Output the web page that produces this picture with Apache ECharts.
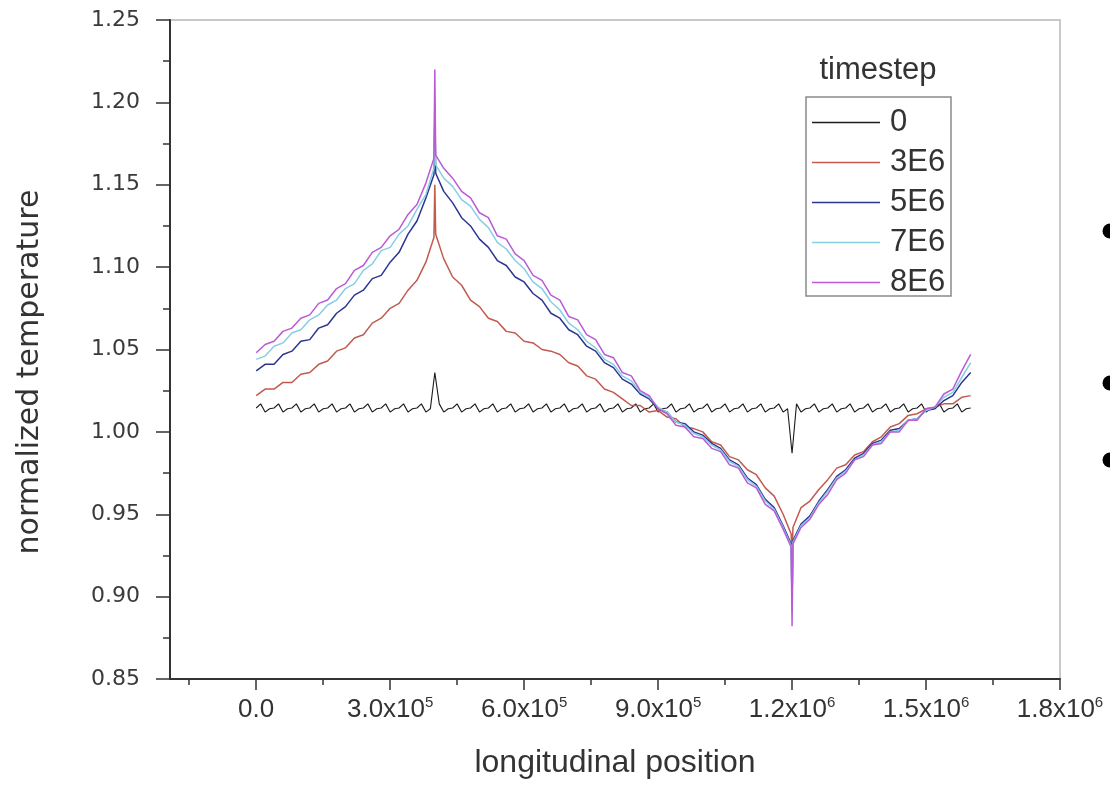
<!DOCTYPE html>
<html>
<head>
<meta charset="utf-8">
<title>normalized temperature vs longitudinal position</title>
<script src="https://cdn.jsdelivr.net/npm/echarts@6/dist/echarts.min.js"></script>
<style>
  html, body { margin: 0; padding: 0; background: #ffffff; }
  #chart { width: 1110px; height: 791px; }
</style>
</head>
<body>
<div id="chart"></div>
<script>
// Temperature profiles along the channel, one per timestep.
const timesteps = ['0', '3E6', '5E6', '7E6', '8E6'];

// Sample positions shared by the evolved profiles (source at 4.0e5, sink at 1.2e6).
const posCurve = [
  0, 20000, 40000, 60000, 80000, 100000, 120000, 140000, 160000, 180000,
  200000, 220000, 240000, 260000, 280000, 300000, 320000, 340000, 360000, 380000,
  398000, 400000, 402000,
  420000, 440000, 460000, 480000, 500000, 520000, 540000, 560000, 580000, 600000,
  620000, 640000, 660000, 680000, 700000, 720000, 740000, 760000, 780000, 800000,
  820000, 840000, 860000, 880000, 900000, 920000, 940000, 960000, 980000, 1000000,
  1020000, 1040000, 1060000, 1080000, 1100000, 1120000, 1140000, 1160000, 1180000,
  1198000, 1200000, 1202000,
  1220000, 1240000, 1260000, 1280000, 1300000, 1320000, 1340000, 1360000, 1380000, 1400000,
  1420000, 1440000, 1460000, 1480000, 1500000, 1520000, 1540000, 1560000, 1580000, 1600000
];

const temp3E6 = [
  1.022, 1.026, 1.026, 1.030, 1.030, 1.035, 1.036, 1.041, 1.043, 1.049,
  1.051, 1.057, 1.059, 1.066, 1.069, 1.075, 1.078, 1.086, 1.092, 1.103,
  1.118, 1.150, 1.120,
  1.105, 1.094, 1.089, 1.080, 1.076, 1.069, 1.067, 1.061, 1.060, 1.055,
  1.054, 1.050, 1.049, 1.047, 1.042, 1.040, 1.034, 1.032, 1.026, 1.024,
  1.020, 1.016, 1.016, 1.012, 1.013, 1.009, 1.008, 1.003, 1.002, 1.000,
  0.994, 0.992, 0.985, 0.983, 0.977, 0.974, 0.966, 0.961, 0.950,
  0.938, 0.925, 0.942,
  0.954, 0.958, 0.965, 0.971, 0.978, 0.980, 0.986, 0.988, 0.994, 0.997,
  1.003, 1.005, 1.010, 1.011, 1.014, 1.015, 1.017, 1.017, 1.021, 1.022
];

const temp5E6 = [
  1.037, 1.041, 1.041, 1.047, 1.049, 1.055, 1.056, 1.063, 1.065, 1.072,
  1.076, 1.083, 1.086, 1.093, 1.095, 1.103, 1.109, 1.120, 1.128, 1.142,
  1.156, 1.190, 1.157,
  1.146, 1.139, 1.130, 1.125, 1.117, 1.112, 1.104, 1.101, 1.094, 1.091,
  1.084, 1.080, 1.072, 1.069, 1.062, 1.059, 1.052, 1.049, 1.042, 1.039,
  1.032, 1.029, 1.023, 1.020, 1.014, 1.012, 1.006, 1.005, 1.000, 0.998,
  0.993, 0.990, 0.983, 0.980, 0.972, 0.968, 0.959, 0.954, 0.943,
  0.932, 0.895, 0.934,
  0.944, 0.949, 0.958, 0.965, 0.973, 0.977, 0.984, 0.987, 0.993, 0.995,
  1.001, 1.002, 1.007, 1.008, 1.013, 1.014, 1.019, 1.022, 1.030, 1.036
];

const temp7E6 = [
  1.044, 1.046, 1.052, 1.054, 1.060, 1.062, 1.068, 1.071, 1.077, 1.080,
  1.087, 1.090, 1.098, 1.102, 1.110, 1.112, 1.120, 1.125, 1.135, 1.144,
  1.160, 1.200, 1.162,
  1.154, 1.149, 1.141, 1.137, 1.129, 1.124, 1.115, 1.111, 1.104, 1.099,
  1.091, 1.087, 1.079, 1.074, 1.066, 1.062, 1.055, 1.051, 1.044, 1.041,
  1.034, 1.031, 1.024, 1.021, 1.015, 1.012, 1.006, 1.004, 0.999, 0.997,
  0.992, 0.989, 0.982, 0.979, 0.971, 0.967, 0.958, 0.953, 0.942,
  0.931, 0.890, 0.933,
  0.943, 0.948, 0.957, 0.964, 0.972, 0.976, 0.983, 0.986, 0.992, 0.994,
  1.000, 1.001, 1.007, 1.008, 1.013, 1.015, 1.021, 1.024, 1.033, 1.042
];

const temp8E6 = [
  1.048, 1.053, 1.055, 1.061, 1.063, 1.069, 1.071, 1.078, 1.080, 1.087,
  1.090, 1.098, 1.101, 1.109, 1.112, 1.119, 1.123, 1.132, 1.138, 1.151,
  1.166, 1.220, 1.168,
  1.160, 1.154, 1.146, 1.142, 1.133, 1.130, 1.119, 1.117, 1.108, 1.104,
  1.095, 1.092, 1.083, 1.080, 1.070, 1.068, 1.059, 1.056, 1.047, 1.045,
  1.036, 1.034, 1.025, 1.022, 1.014, 1.011, 1.004, 1.003, 0.997, 0.996,
  0.990, 0.988, 0.980, 0.978, 0.969, 0.966, 0.956, 0.952, 0.941,
  0.930, 0.882, 0.932,
  0.942, 0.947, 0.956, 0.962, 0.971, 0.975, 0.983, 0.985, 0.992, 0.993,
  1.000, 1.000, 1.007, 1.007, 1.014, 1.015, 1.023, 1.026, 1.037, 1.047
];

// Initial profile, sampled every 1.0e4 from 0 to 1.6e6.
const temp0 = [
  1.0145, 1.0170, 1.0120, 1.0140, 1.0145, 1.0170, 1.0120, 1.0140, 1.0145, 1.0170,
  1.0120, 1.0140, 1.0145, 1.0170, 1.0120, 1.0140, 1.0145, 1.0170, 1.0120, 1.0140,
  1.0145, 1.0170, 1.0120, 1.0140, 1.0145, 1.0170, 1.0120, 1.0140, 1.0145, 1.0170,
  1.0120, 1.0140, 1.0145, 1.0170, 1.0120, 1.0140, 1.0145, 1.0170, 1.0120, 1.0140,
  1.0360, 1.0170, 1.0120, 1.0140, 1.0145, 1.0170, 1.0120, 1.0140, 1.0145, 1.0170,
  1.0120, 1.0140, 1.0145, 1.0170, 1.0120, 1.0140, 1.0145, 1.0170, 1.0120, 1.0140,
  1.0145, 1.0170, 1.0120, 1.0140, 1.0145, 1.0170, 1.0120, 1.0140, 1.0145, 1.0170,
  1.0120, 1.0140, 1.0145, 1.0170, 1.0120, 1.0140, 1.0145, 1.0170, 1.0120, 1.0140,
  1.0145, 1.0170, 1.0120, 1.0140, 1.0145, 1.0170, 1.0120, 1.0140, 1.0145, 1.0170,
  1.0120, 1.0140, 1.0145, 1.0170, 1.0120, 1.0140, 1.0145, 1.0170, 1.0120, 1.0140,
  1.0145, 1.0170, 1.0120, 1.0140, 1.0145, 1.0170, 1.0120, 1.0140, 1.0145, 1.0170,
  1.0120, 1.0140, 1.0145, 1.0170, 1.0120, 1.0140, 1.0145, 1.0170, 1.0120, 1.0140,
  0.9870, 1.0170, 1.0120, 1.0140, 1.0145, 1.0170, 1.0120, 1.0140, 1.0145, 1.0170,
  1.0120, 1.0140, 1.0145, 1.0170, 1.0120, 1.0140, 1.0145, 1.0170, 1.0120, 1.0140,
  1.0145, 1.0170, 1.0120, 1.0140, 1.0145, 1.0170, 1.0120, 1.0140, 1.0145, 1.0170,
  1.0120, 1.0140, 1.0145, 1.0170, 1.0120, 1.0140, 1.0145, 1.0170, 1.0120, 1.0140,
  1.0145
];
const pos0 = temp0.map((_, i) => i * 10000);

// Axis ticks and their labels (mantissa, exponent).
const xTickValues = [0, 300000, 600000, 900000, 1200000, 1500000, 1800000];
const xTickText = [['0.0', ''], ['3.0x10', '5'], ['6.0x10', '5'], ['9.0x10', '5'],
                   ['1.2x10', '6'], ['1.5x10', '6'], ['1.8x10', '6']];
const xMinorTicks = [-150000, 150000, 450000, 750000, 1050000, 1350000, 1650000];
const yMin = 0.85, yMax = 1.25, yStep = 0.05;

const seriesColors = ['#1c1c1c', '#c25a4e', '#2b3690', '#86cfe2', '#bb5ad6'];
const seriesValues = [temp0, temp3E6, temp5E6, temp7E6, temp8E6];
const seriesPositions = [pos0, posCurve, posCurve, posCurve, posCurve];

const chart = echarts.init(document.getElementById('chart'), null, { renderer: 'canvas' });

const axisColor = '#333333';
const textColor = '#333333';

function xLabel(v) {
  const k = xTickValues.findIndex(t => Math.abs(t - v) < 1);
  if (k < 0) return '';
  const t = xTickText[k];
  return t[1] ? '{b|' + t[0] + '}{s|' + t[1] + '}' : '{b|' + t[0] + '}';
}

const option = {
  animation: false,
  backgroundColor: '#ffffff',
  grid: {
    left: 170, right: 50, top: 20, bottom: 112,
    outerBoundsMode: 'none', containLabel: false,
    show: true, borderColor: '#c9c9c9', borderWidth: 2, backgroundColor: 'transparent'
  },
  xAxis: [
    {
      type: 'value', min: -193000, max: 1800000,
      name: 'longitudinal position', nameLocation: 'middle', nameGap: 68,
      nameTextStyle: { fontFamily: 'Liberation Sans', fontSize: 32, color: textColor },
      axisLine: { show: true, onZero: false, lineStyle: { color: axisColor, width: 2 } },
      axisTick: { show: true, customValues: xTickValues, length: 11, lineStyle: { color: axisColor, width: 1.5 } },
      axisLabel: {
        customValues: xTickValues, margin: 16, formatter: xLabel,
        rich: {
          b: { fontFamily: 'Liberation Sans', fontSize: 26, color: textColor, lineHeight: 30 },
          s: { fontFamily: 'Liberation Sans', fontSize: 15, color: textColor, verticalAlign: 'top' }
        }
      },
      splitLine: { show: false }
    },
    {
      type: 'value', min: -193000, max: 1800000, position: 'bottom', offset: 0,
      axisLine: { show: false },
      axisTick: { show: true, customValues: xMinorTicks, length: 6, lineStyle: { color: axisColor, width: 1.5 } },
      axisLabel: { show: false },
      splitLine: { show: false }
    }
  ],
  yAxis: {
    type: 'value', min: yMin, max: yMax, interval: yStep,
    axisLine: { show: true, onZero: false, lineStyle: { color: axisColor, width: 2 } },
    axisTick: { show: true, length: 14, lineStyle: { color: axisColor, width: 1.5 } },
    minorTick: { show: true, splitNumber: 2, length: 7, lineStyle: { color: axisColor, width: 1.5 } },
    axisLabel: {
      margin: 30, fontFamily: 'DejaVu Sans', fontSize: 22, color: '#3a3a3a',
      formatter: v => v.toFixed(2)
    },
    splitLine: { show: false },
    minorSplitLine: { show: false }
  },
  legend: {
    data: timesteps, orient: 'vertical', left: 807, top: 102,
    itemWidth: 68, itemHeight: 20, itemGap: 9, selectedMode: false,
    icon: 'path://M0,0L68,0L68,1.6L0,1.6Z',
    textStyle: { fontFamily: 'Liberation Sans', fontSize: 31, color: textColor, padding: [0, 0, 0, 5] }
  },
  graphic: [
    {
      type: 'rect', z: 10, silent: true,
      shape: { x: 806, y: 97, width: 145, height: 199 },
      style: { fill: 'transparent', stroke: '#8a8a8a', lineWidth: 1.5 }
    },
    {
      type: 'text', z: 10, silent: true, x: 878, y: 70,
      style: { text: 'timestep', fontFamily: 'Liberation Sans', fontSize: 31, fill: textColor, align: 'center', verticalAlign: 'middle' }
    },
    {
      type: 'text', z: 10, silent: true, x: 30, y: 372, rotation: Math.PI / 2,
      style: { text: 'normalized temperature', fontFamily: 'DejaVu Sans', fontSize: 30, fill: textColor, align: 'center', verticalAlign: 'middle' }
    },
    { type: 'circle', silent: true, shape: { cx: 1110, cy: 231, r: 7.5 }, style: { fill: '#000000' } },
    { type: 'circle', silent: true, shape: { cx: 1110, cy: 383, r: 7.5 }, style: { fill: '#000000' } },
    { type: 'circle', silent: true, shape: { cx: 1110, cy: 460, r: 7.5 }, style: { fill: '#000000' } }
  ],
  series: timesteps.map((name, s) => ({
    name: name,
    type: 'line',
    xAxisIndex: 0,
    symbol: 'none',
    smooth: false,
    z: 2 + s,
    lineStyle: { color: seriesColors[s], width: s === 0 ? 1.1 : 1.5 },
    itemStyle: { color: seriesColors[s] },
    data: seriesValues[s].map((v, i) => [seriesPositions[s][i], v])
  }))
};

chart.setOption(option);
</script>
</body>
</html>
